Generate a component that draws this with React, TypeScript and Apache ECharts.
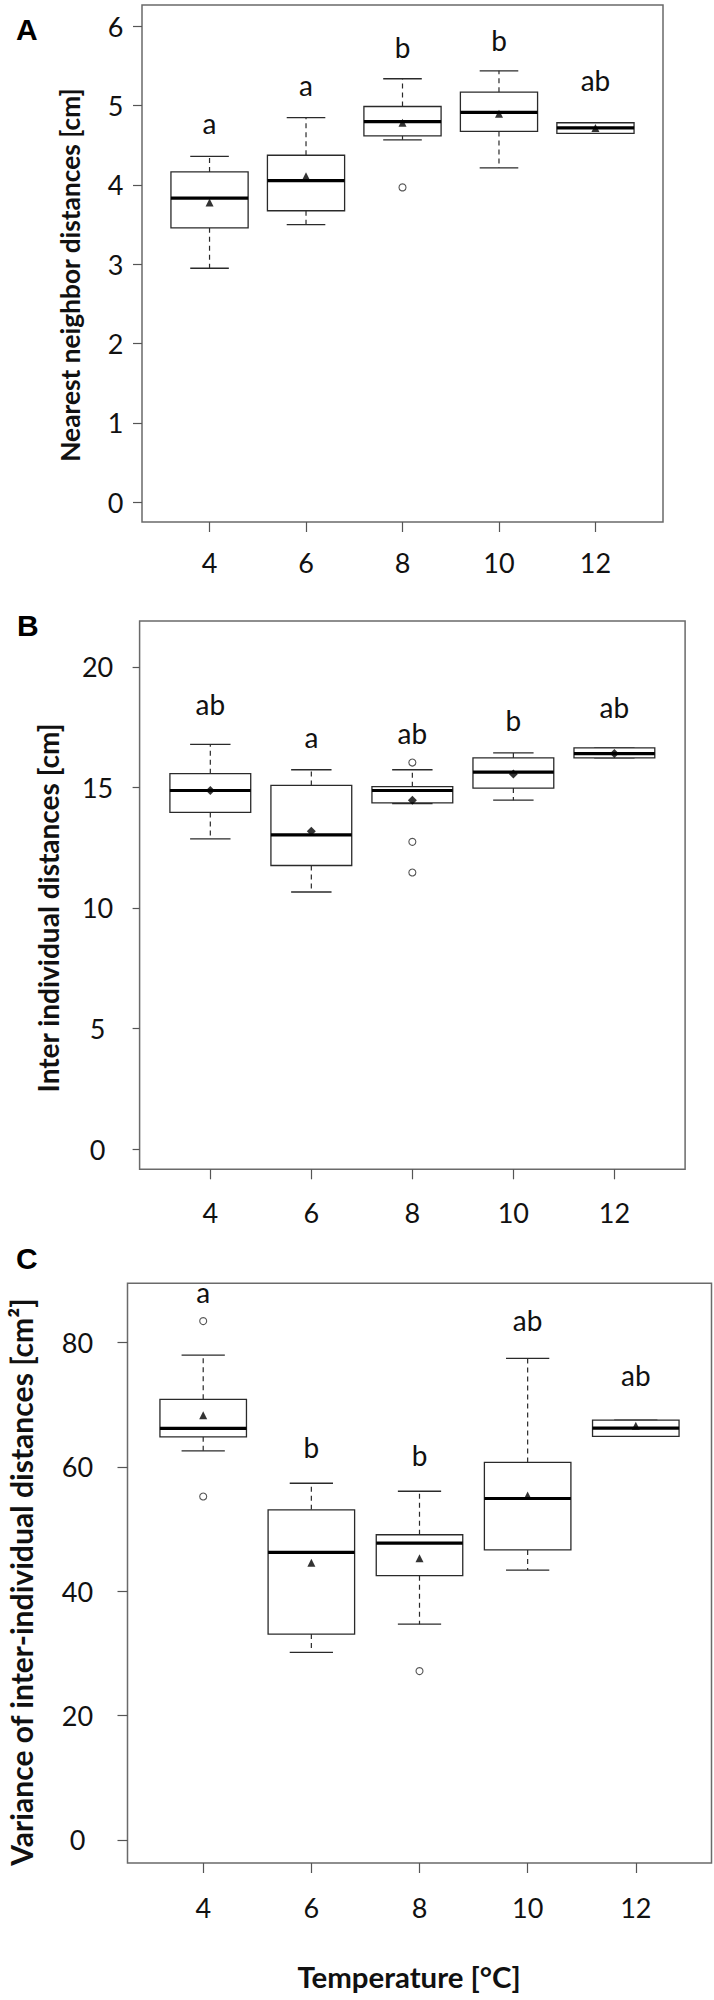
import React, { useEffect, useRef } from "react";
import * as echarts from "echarts";

// ---------- shared ----------
const temperatures = [4, 6, 8, 10, 12];
const tempLabels = ["4", "6", "8", "10", "12"];

// ---------- Panel A: nearest neighbor distances [cm] ----------
const nndLow = [2.95, 3.5, 4.57, 4.215, 4.65];
const nndQ1 = [3.46, 3.675, 4.62, 4.675, 4.65];
const nndMedian = [3.835, 4.055, 4.8, 4.915, 4.72];
const nndQ3 = [4.165, 4.375, 4.99, 5.17, 4.785];
const nndHigh = [4.36, 4.85, 5.34, 5.44, 4.785];
const nndMean = [3.78, 4.11, 4.785, 4.9, 4.72];
const nndOutliers = [[8, 3.97]];
const nndLetters = ["a", "a", "b", "b", "ab"];
const nndLetterY = [4.78, 5.26, 5.74, 5.83, 5.32];
const nndTicks = [0, 1, 2, 3, 4, 5, 6];

// ---------- Panel B: inter individual distances [cm] ----------
const iidLow = [12.86, 10.66, 14.33, 14.47, 16.22];
const iidQ1 = [13.96, 11.76, 14.36, 14.97, 16.22];
const iidMedian = [14.87, 13.03, 14.87, 15.63, 16.4];
const iidQ3 = [15.57, 15.08, 15.03, 16.22, 16.64];
const iidHigh = [16.78, 15.73, 15.73, 16.43, 16.64];
const iidMean = [14.87, 13.18, 14.47, 15.55, 16.4];
const iidOutliers = [[8, 16.03], [8, 12.74], [8, 11.47]];
const iidLetters = ["ab", "a", "ab", "b", "ab"];
const iidLetterY = [18.44, 17.08, 17.25, 17.8, 18.33];
const iidTicks = [0, 5, 10, 15, 20];

// ---------- Panel C: variance of inter-individual distances [cm²] ----------
const varLow = [62.55, 30.16, 34.7, 43.4, 64.88];
const varQ1 = [64.82, 33.1, 42.5, 46.63, 64.88];
const varMedian = [66.16, 46.23, 47.73, 54.9, 66.22];
const varQ3 = [70.85, 53.08, 49.07, 60.7, 67.5];
const varHigh = [77.96, 57.35, 56.07, 77.44, 67.5];
const varMean = [68.28, 44.58, 45.28, 55.37, 66.6];
const varOutliers = [[4, 83.42], [4, 55.22], [8, 27.15]];
const varLetters = ["a", "b", "b", "ab", "ab"];
const varLetterY = [88.1, 63.17, 61.83, 83.54, 74.7];
const varTicks = [0, 20, 40, 60, 80];

const FONT = "Lato, 'Open Sans', sans-serif";
const BOX_WIDTH = 1.6;
const LINE = "#2a2a2a";
const TICK_FONT = 27;
const LETTER_FONT = 28;

function fitFont(text: string, weight: string, family: string, target: number, fallback: number) {
  try {
    const ctx = document.createElement("canvas").getContext("2d");
    if (!ctx) return fallback;
    ctx.font = `${weight} 100px ${family}`;
    const w = ctx.measureText(text).width;
    if (!w) return fallback;
    return Math.round((100 * target) / w * 10) / 10;
  } catch (e) {
    return fallback;
  }
}

function renderBox(params: any, api: any) {
  const x = api.value(0);
  const lo = api.coord([x, api.value(1)]);
  const q1 = api.coord([x, api.value(2)]);
  const md = api.coord([x, api.value(3)]);
  const q3 = api.coord([x, api.value(4)]);
  const hi = api.coord([x, api.value(5)]);
  const bw = api.size([BOX_WIDTH, 0])[0];
  const half = bw / 2;
  const cap = bw / 4;
  const cx = lo[0];
  const dash = { stroke: LINE, lineWidth: 1.2, lineDash: [5, 4] };
  const solid = { stroke: LINE, lineWidth: 1.3 };
  return {
    type: "group",
    children: [
      { type: "line", shape: { x1: cx, y1: q3[1], x2: cx, y2: hi[1] }, style: dash },
      { type: "line", shape: { x1: cx, y1: q1[1], x2: cx, y2: lo[1] }, style: dash },
      { type: "line", shape: { x1: cx - cap, y1: hi[1], x2: cx + cap, y2: hi[1] }, style: solid },
      { type: "line", shape: { x1: cx - cap, y1: lo[1], x2: cx + cap, y2: lo[1] }, style: solid },
      {
        type: "rect",
        shape: { x: cx - half, y: q3[1], width: bw, height: q1[1] - q3[1] },
        style: { fill: "#fff", stroke: LINE, lineWidth: 1.3 },
      },
      {
        type: "line",
        shape: { x1: cx - half, y1: md[1], x2: cx + half, y2: md[1] },
        style: { stroke: "#000", lineWidth: 3.2 },
      },
    ],
  };
}

function makeSeries(
  idx: number,
  low: number[], q1: number[], med: number[], q3: number[], high: number[],
  mean: number[], outliers: number[][], letters: string[], letterY: number[],
  meanSymbol: string, meanSize: number
) {
  const boxData = temperatures.map((t, i) => [t, low[i], q1[i], med[i], q3[i], high[i]]);
  return [
    {
      type: "custom",
      xAxisIndex: idx,
      yAxisIndex: idx,
      renderItem: renderBox,
      encode: { x: 0, y: [1, 2, 3, 4, 5] },
      data: boxData,
      z: 2,
    },
    {
      type: "scatter",
      xAxisIndex: idx,
      yAxisIndex: idx,
      symbol: "circle",
      symbolSize: 7,
      itemStyle: { color: "#fff", borderColor: LINE, borderWidth: 1.1 },
      data: outliers,
      z: 3,
    },
    {
      type: "scatter",
      xAxisIndex: idx,
      yAxisIndex: idx,
      symbol: meanSymbol,
      symbolSize: meanSize,
      itemStyle: { color: "#000" },
      data: temperatures.map((t, i) => [t, mean[i]]),
      z: 4,
    },
    {
      type: "custom",
      xAxisIndex: idx,
      yAxisIndex: idx,
      encode: { x: 0, y: 1 },
      data: temperatures.map((t, i) => [t, letterY[i]]),
      renderItem: (params: any, api: any) => {
        const p = api.coord([api.value(0), api.value(1)]);
        return {
          type: "text",
          x: p[0],
          y: p[1],
          style: {
            text: letters[params.dataIndex],
            font: `${LETTER_FONT}px ${FONT}`,
            fill: "#111",
            align: "center",
            verticalAlign: "middle",
          },
        };
      },
      z: 5,
    },
  ];
}

const grids = [
  { left: 142, top: 5, width: 521, height: 517 },
  { left: 139.6, top: 621, width: 545.5, height: 548.3 },
  { left: 127.5, top: 1283.3, width: 584, height: 579.7 },
];
const yRanges = [
  { min: -0.25, max: 6.27, ticks: nndTicks, tickLen: 9, margin: 26.5 },
  { min: -0.84, max: 21.9, ticks: iidTicks, tickLen: 7, margin: 42 },
  { min: -3.7, max: 89.5, ticks: varTicks, tickLen: 10, margin: 50 },
];
const xMargins = [27, 30, 31];

export default function App() {
  const ref = useRef<HTMLDivElement>(null);
  useEffect(() => {
    if (!ref.current) return;
    const chart = echarts.init(ref.current, null, { renderer: "svg" });
    const titleA = "Nearest neighbor distances [cm]";
    const titleB = "Inter individual distances [cm]";
    const titleC = "Variance of inter-individual distances [cm²]";
    const titleX = "Temperature [°C]";
    const fA = fitFont(titleA, "bold", FONT, 374, 24);
    const fB = fitFont(titleB, "bold", FONT, 370, 24);
    const fC = fitFont(titleC, "bold", FONT, 569, 26);
    const fX = fitFont(titleX, "bold", FONT, 223, 28);
    const option: any = {
      animation: false,
      backgroundColor: "#fff",
      grid: grids.map((g) => ({
        ...g,
        show: true,
        borderColor: "#6a6a6a",
        borderWidth: 1.5,
        backgroundColor: "transparent",
        containLabel: false,
        outerBoundsMode: "none",
      })),
      xAxis: grids.map((_, i) => ({
        type: "value",
        gridIndex: i,
        min: 2.6,
        max: 13.4,
        axisLine: { show: false, onZero: false },
        splitLine: { show: false },
        axisTick: {
          show: true,
          length: 10,
          customValues: temperatures,
          lineStyle: { color: "#555", width: 1.2 },
        },
        axisLabel: {
          show: true,
          customValues: temperatures,
          margin: xMargins[i],
          fontSize: TICK_FONT,
          fontFamily: FONT,
          color: "#111",
          formatter: (v: number) => tempLabels[temperatures.indexOf(v)] ?? "",
        },
      })),
      yAxis: yRanges.map((r, i) => ({
        type: "value",
        gridIndex: i,
        min: r.min,
        max: r.max,
        axisLine: { show: false, onZero: false },
        splitLine: { show: false },
        axisTick: {
          show: true,
          length: r.tickLen,
          customValues: r.ticks,
          lineStyle: { color: "#555", width: 1.2 },
        },
        axisLabel: {
          show: true,
          customValues: r.ticks,
          margin: r.margin,
          align: "center",
          fontSize: TICK_FONT,
          fontFamily: FONT,
          color: "#111",
        },
      })),
      series: [
        ...makeSeries(0, nndLow, nndQ1, nndMedian, nndQ3, nndHigh, nndMean, nndOutliers, nndLetters, nndLetterY, "triangle", 8),
        ...makeSeries(1, iidLow, iidQ1, iidMedian, iidQ3, iidHigh, iidMean, iidOutliers, iidLetters, iidLetterY, "diamond", 9),
        ...makeSeries(2, varLow, varQ1, varMedian, varQ3, varHigh, varMean, varOutliers, varLetters, varLetterY, "triangle", 8),
      ],
      graphic: [
        { type: "text", x: 16, y: 29, style: { text: "A", font: "bold 30px 'Liberation Sans', Arial, sans-serif", fill: "#000", verticalAlign: "middle" } },
        { type: "text", x: 17, y: 625, style: { text: "B", font: "bold 30px 'Liberation Sans', Arial, sans-serif", fill: "#000", verticalAlign: "middle" } },
        { type: "text", x: 16, y: 1258, style: { text: "C", font: "bold 30px 'Liberation Sans', Arial, sans-serif", fill: "#000", verticalAlign: "middle" } },
        { type: "text", x: 70, y: 275, rotation: Math.PI / 2, style: { text: titleA, font: `bold ${fA}px ${FONT}`, fill: "#111", align: "center", verticalAlign: "middle" } },
        { type: "text", x: 48, y: 908, rotation: Math.PI / 2, style: { text: titleB, font: `bold ${fB}px ${FONT}`, fill: "#111", align: "center", verticalAlign: "middle" } },
        { type: "text", x: 21, y: 1582, rotation: Math.PI / 2, style: { text: titleC, font: `bold ${fC}px ${FONT}`, fill: "#111", align: "center", verticalAlign: "middle" } },
        { type: "text", x: 409, y: 1976, style: { text: titleX, font: `bold ${fX}px ${FONT}`, fill: "#111", align: "center", verticalAlign: "middle" } },
      ],
    };
    chart.setOption(option);
    return () => chart.dispose();
  }, []);
  return (
    <div
      ref={ref}
      style={{ position: "absolute", left: 0, top: 0, width: 714, height: 2000 }}
    />
  );
}
